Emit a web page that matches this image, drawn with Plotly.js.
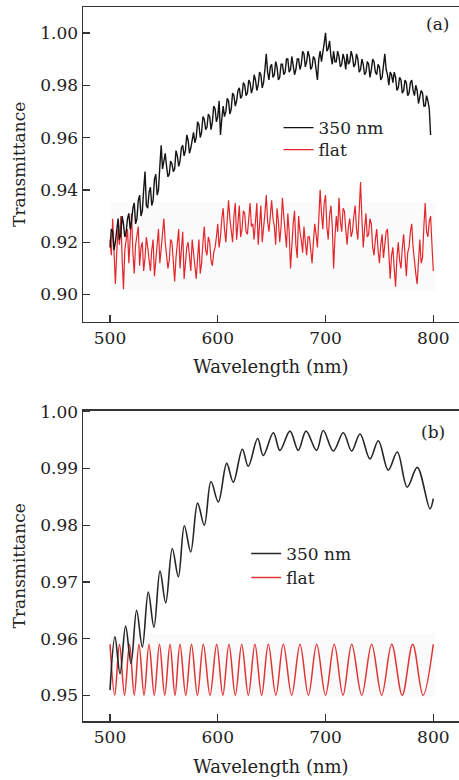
<!DOCTYPE html>
<html>
<head>
<meta charset="utf-8">
<script src="https://cdn.plot.ly/plotly-3.0.1.min.js"></script>
<style>html,body{margin:0;padding:0;background:#fff;}#chart{width:459px;height:780px;}</style>
</head>
<body>
<div id="chart"></div>
<script>
// ---------- Panel (a): measured transmittance, 1.25 nm step from 500 nm ----------
const aStart = 500;
const aStep = 1.25;
const a350 = [
  0.918,0.925,0.924,0.917,0.920,0.926,0.929,0.921,0.923,0.930,0.927,0.922,0.924,0.929,0.931,0.925,0.928,0.933,0.935,0.927,
  0.929,0.936,0.938,0.930,0.932,0.940,0.947,0.934,0.933,0.939,0.941,0.934,0.936,0.944,0.946,0.938,0.940,0.949,0.957,0.948,
  0.951,0.954,0.949,0.945,0.946,0.951,0.950,0.947,0.948,0.955,0.953,0.949,0.951,0.956,0.957,0.953,0.955,0.961,0.959,0.954,
  0.956,0.960,0.962,0.958,0.960,0.966,0.965,0.960,0.962,0.968,0.967,0.963,0.964,0.969,0.968,0.963,0.966,0.972,0.971,0.966,
  0.968,0.974,0.961,0.967,0.972,0.968,0.970,0.975,0.974,0.969,0.971,0.977,0.976,0.972,0.974,0.978,0.979,0.975,0.976,0.981,
  0.980,0.976,0.977,0.982,0.981,0.977,0.979,0.984,0.982,0.978,0.980,0.985,0.984,0.979,0.981,0.986,0.992,0.985,0.982,0.987,
  0.988,0.983,0.984,0.989,0.987,0.982,0.983,0.988,0.988,0.984,0.985,0.990,0.990,0.985,0.986,0.991,0.988,0.984,0.986,0.990,
  0.990,0.986,0.988,0.993,0.992,0.987,0.989,0.993,0.991,0.986,0.987,0.991,0.990,0.985,0.982,0.990,0.993,0.989,0.992,0.996,
  1.000,0.993,0.994,0.997,0.991,0.988,0.993,0.989,0.989,0.993,0.991,0.987,0.988,0.992,0.990,0.986,0.992,0.988,0.989,0.993,
  0.991,0.987,0.988,0.992,0.990,0.985,0.986,0.990,0.988,0.984,0.985,0.989,0.988,0.983,0.986,0.990,0.989,0.985,0.984,0.988,
  0.987,0.982,0.983,0.987,0.992,0.986,0.984,0.980,0.985,0.984,0.981,0.985,0.983,0.978,0.979,0.983,0.982,0.977,0.978,0.982,
  0.981,0.976,0.977,0.981,0.982,0.978,0.976,0.980,0.978,0.973,0.975,0.978,0.977,0.972,0.972,0.976,0.974,0.971,0.961
];
const aFlat = [
  0.921,0.915,0.929,0.918,0.904,0.916,0.925,0.919,0.930,0.914,0.902,0.917,0.921,0.925,0.912,0.920,0.931,0.916,0.908,0.919,
  0.922,0.926,0.911,0.918,0.920,0.909,0.914,0.922,0.918,0.913,0.909,0.917,0.921,0.907,0.913,0.919,0.925,0.912,0.917,0.923,
  0.929,0.920,0.916,0.910,0.913,0.921,0.920,0.911,0.905,0.914,0.919,0.925,0.910,0.916,0.924,0.906,0.913,0.918,0.920,0.914,
  0.909,0.921,0.917,0.911,0.906,0.915,0.921,0.908,0.912,0.920,0.926,0.917,0.915,0.922,0.920,0.913,0.911,0.916,0.918,0.922,
  0.927,0.918,0.922,0.929,0.933,0.925,0.920,0.928,0.936,0.929,0.924,0.920,0.930,0.935,0.921,0.927,0.934,0.922,0.925,0.932,
  0.931,0.924,0.923,0.929,0.935,0.926,0.927,0.921,0.930,0.935,0.919,0.927,0.934,0.920,0.925,0.931,0.938,0.928,0.924,0.930,
  0.936,0.929,0.926,0.919,0.933,0.928,0.920,0.926,0.937,0.930,0.924,0.918,0.931,0.924,0.910,0.921,0.927,0.932,0.919,0.914,
  0.930,0.924,0.921,0.916,0.926,0.920,0.915,0.922,0.922,0.917,0.912,0.920,0.927,0.923,0.918,0.929,0.940,0.931,0.925,0.935,
  0.938,0.926,0.921,0.930,0.934,0.926,0.910,0.922,0.930,0.924,0.937,0.928,0.924,0.933,0.932,0.925,0.919,0.926,0.929,0.922,
  0.924,0.930,0.934,0.925,0.921,0.932,0.943,0.929,0.918,0.925,0.931,0.922,0.923,0.929,0.927,0.918,0.915,0.921,0.925,0.917,
  0.912,0.919,0.923,0.914,0.919,0.924,0.925,0.913,0.906,0.915,0.918,0.910,0.903,0.914,0.920,0.913,0.910,0.918,0.923,0.915,
  0.907,0.916,0.918,0.924,0.927,0.918,0.912,0.908,0.904,0.915,0.921,0.912,0.914,0.926,0.935,0.924,0.922,0.928,0.930,0.919,
  0.909
];

// ---------- Panel (b): simulated transmittance, fringe extrema ----------
const b350Wl = [500,504.6,509.3,514.5,519.5,524.7,530,535.5,540.8,546.4,551.7,557.8,563.4,569,574.9,581.3,587.5,593.7,600.5,608.3,614.4,622.8,628.3,637,642.2,651.6,657.7,667,674.7,681.9,691.7,697.9,707.2,716.5,724.2,732,741.2,749,758.2,766.6,775.8,785.1,796.9,800];
const b350T  = [0.9509,0.9603,0.9538,0.9622,0.9556,0.9650,0.9585,0.9682,0.9620,0.9719,0.9663,0.9759,0.9709,0.9799,0.9753,0.9839,0.9800,0.9877,0.9841,0.9909,0.9876,0.9934,0.9904,0.9953,0.9923,0.9963,0.9932,0.9966,0.9932,0.9966,0.9932,0.9967,0.9931,0.9963,0.9931,0.9961,0.9917,0.9949,0.9897,0.9929,0.9867,0.9902,0.9829,0.9847];
const bFlatWl = [500,504.4,508.8,513.5,518.1,522.5,526.9,531.6,536.2,541.1,545.9,550.8,555.7,560.3,564.9,570.3,575.6,581.1,586.6,592.8,599.0,604.7,610.4,616.3,622.2,628.4,634.5,640.7,646.9,653.9,660.8,668.6,676.3,684.1,691.8,700,708.1,716.2,724.3,733.6,742.8,752.1,761.4,771.2,780.9,790.5,800];
const bFlatT  = [0.9590,0.9500,0.9590,0.9500,0.9590,0.9500,0.9590,0.9500,0.9590,0.9500,0.9590,0.9500,0.9590,0.9500,0.9590,0.9500,0.9590,0.9500,0.9590,0.9500,0.9590,0.9500,0.9590,0.9500,0.9590,0.9500,0.9590,0.9500,0.9590,0.9500,0.9590,0.9500,0.9590,0.9500,0.9590,0.9500,0.9590,0.9500,0.9590,0.9500,0.9590,0.9500,0.9590,0.9500,0.9590,0.9500,0.9590];

const seriesNames = ['350 nm', 'flat'];
const xTicks = [500, 600, 700, 800];
const yTicksA = [0.90, 0.92, 0.94, 0.96, 0.98, 1.00];
const yTicksB = [0.95, 0.96, 0.97, 0.98, 0.99, 1.00];

const FONT = 'DejaVu Serif, Liberation Serif, serif';
const BLACK = '#151515';
const RED = '#e2262b';

const traces = [
  {x0: aStart, dx: aStep, y: aFlat, type: 'scatter', mode: 'lines', name: seriesNames[1],
   line: {color: RED, width: 1.2}, xaxis: 'x', yaxis: 'y', legend: 'legend2'},
  {x0: aStart, dx: aStep, y: a350, type: 'scatter', mode: 'lines', name: seriesNames[0],
   line: {color: BLACK, width: 1.4}, xaxis: 'x', yaxis: 'y', legend: 'legend'},
  {x: bFlatWl, y: bFlatT, type: 'scatter', mode: 'lines', name: seriesNames[1],
   line: {color: '#e03434', width: 1.5, shape: 'spline', smoothing: 1}, xaxis: 'x2', yaxis: 'y2', legend: 'legend4'},
  {x: b350Wl, y: b350T, type: 'scatter', mode: 'lines', name: seriesNames[0],
   line: {color: '#262626', width: 1.6, shape: 'spline', smoothing: 1}, xaxis: 'x2', yaxis: 'y2', legend: 'legend3'}
];

const axisCommon = {
  showline: true, linewidth: 1.5, linecolor: '#333',
  ticks: 'inside', ticklen: 7, tickwidth: 1.3, tickcolor: '#333',
  showgrid: false, zeroline: false,
  tickfont: {family: FONT, size: 17, color: '#222'}
};
const legFont = {family: FONT, size: 17, color: '#222'};
function leg(x, y) {
  return {x: x, y: y, xanchor: 'left', yanchor: 'top', bgcolor: 'rgba(0,0,0,0)', font: legFont};
}

const layout = {
  width: 459, height: 780,
  margin: {l: 83, r: 0, t: 7, b: 59},
  paper_bgcolor: '#fff', plot_bgcolor: 'rgba(0,0,0,0)',
  font: {family: FONT, color: '#222'},
  showlegend: true,
  xaxis: Object.assign({}, axisCommon, {
    domain: [0, 1], anchor: 'y', range: [474.95, 823.85], tickvals: xTicks, mirror: true,
    title: {text: 'Wavelength (nm)', font: {family: FONT, size: 18, color: '#222'}, standoff: 14}
  }),
  yaxis: Object.assign({}, axisCommon, {
    domain: [0.5592, 1], anchor: 'x', range: [0.8896, 1.0099], tickvals: yTicksA, tickformat: '.2f',
    title: {text: 'Transmittance', font: {family: FONT, size: 17, color: '#222'}, standoff: 10}
  }),
  xaxis2: Object.assign({}, axisCommon, {
    domain: [0, 1], anchor: 'y2', range: [474.95, 823.85], tickvals: xTicks, mirror: true,
    title: {text: 'Wavelength (nm)', font: {family: FONT, size: 18, color: '#222'}, standoff: 14}
  }),
  yaxis2: Object.assign({}, axisCommon, {
    domain: [0, 0.4346], anchor: 'x2', range: [0.94546, 1.0002], tickvals: yTicksB, tickformat: '.2f',
    title: {text: 'Transmittance', font: {family: FONT, size: 17, color: '#222'}, standoff: 10}
  }),
  legend: leg(0.52, 0.8557),
  legend2: leg(0.52, 0.8249),
  legend3: leg(0.434, 0.2591),
  legend4: leg(0.434, 0.2255),
  shapes: [
    {type: 'rect', xref: 'x', yref: 'y', x0: 500, x1: 803, y0: 0.9015, y1: 0.9355,
     fillcolor: '#fbfbfb', line: {width: 0}, layer: 'below'},
    {type: 'rect', xref: 'x2', yref: 'y2', x0: 500, x1: 802, y0: 0.9496, y1: 0.9610,
     fillcolor: '#fbfbfb', line: {width: 0}, layer: 'below'}
  ],
  annotations: [
    {text: '(a)', xref: 'paper', yref: 'paper', x: 0.943, y: 0.9755, xanchor: 'center', yanchor: 'middle',
     showarrow: false, font: {family: FONT, size: 17, color: '#222'}},
    {text: '(b)', xref: 'paper', yref: 'paper', x: 0.931, y: 0.4048, xanchor: 'center', yanchor: 'middle',
     showarrow: false, font: {family: FONT, size: 17, color: '#222'}}
  ]
};

Plotly.newPlot('chart', traces, layout, {displayModeBar: false, staticPlot: true});
</script>
</body>
</html>
